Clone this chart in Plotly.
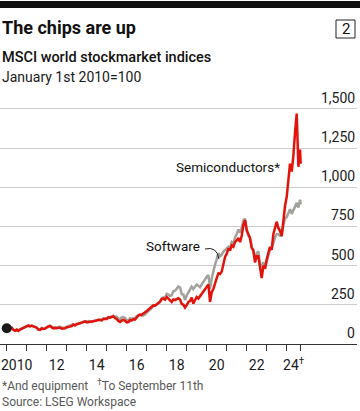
import pandas as pd
import plotly.graph_objects as go

# ---- data ----
months = list(pd.date_range("2010-01-01", "2024-09-01", freq="MS").strftime("%Y-%m-%d")) + ["2024-09-11"]

semis = [
    100, 92, 100, 104, 90, 84, 92, 84, 92, 98, 100, 108,
    114, 118, 112, 116, 112, 106, 104, 92, 90, 100, 96, 98,
    106, 112, 114, 108, 100, 102, 100, 104, 104, 98, 98, 100,
    106, 110, 112, 114, 124, 118, 126, 128, 132, 136, 140, 144,
    138, 140, 142, 140, 144, 148, 150, 154, 152, 150, 160, 158,
    160, 170, 168, 172, 176, 166, 160, 146, 140, 150, 154, 148,
    138, 140, 152, 150, 158, 156, 172, 182, 188, 186, 194, 200,
    210, 220, 228, 232, 246, 244, 256, 262, 270, 288, 290, 282,
    300, 288, 282, 268, 284, 280, 286, 292, 284, 256, 250, 232,
    248, 268, 274, 296, 258, 282, 300, 290, 306, 318, 332, 352,
    362, 380, 268, 330, 350, 392, 420, 450, 446, 462, 520, 556,
    576, 610, 596, 628, 620, 650, 660, 676, 650, 690, 760, 790,
    726, 700, 676, 612, 600, 520, 560, 560, 470, 420, 500, 480,
    540, 590, 620, 600, 700, 740, 780, 740, 720, 690, 800, 880,
    940, 1040, 1150, 1100, 1200, 1350, 1470, 1130, 1240, 1150,
]

software = [
    100, 94, 100, 104, 92, 86, 92, 86, 94, 100, 102, 108,
    112, 116, 114, 118, 114, 108, 106, 94, 92, 102, 98, 100,
    108, 114, 118, 112, 104, 106, 104, 108, 110, 104, 104, 106,
    110, 114, 118, 120, 126, 122, 128, 128, 134, 138, 142, 146,
    142, 146, 142, 140, 146, 150, 152, 154, 156, 154, 164, 162,
    164, 172, 170, 176, 180, 172, 174, 162, 158, 170, 172, 166,
    154, 150, 164, 160, 166, 164, 178, 182, 186, 180, 184, 188,
    200, 210, 222, 228, 246, 244, 252, 260, 268, 288, 298, 296,
    320, 316, 306, 310, 336, 340, 350, 366, 360, 318, 316, 280,
    310, 330, 350, 366, 350, 366, 380, 372, 362, 380, 398, 410,
    428, 440, 350, 420, 470, 506, 540, 580, 560, 570, 590, 600,
    606, 620, 610, 650, 640, 680, 700, 730, 710, 740, 790, 800,
    720, 690, 680, 620, 590, 540, 580, 590, 500, 500, 520, 490,
    530, 560, 600, 610, 650, 680, 700, 700, 690, 690, 760, 800,
    810, 840, 860, 830, 850, 880, 900, 870, 920, 890,
]

start_date = ["2010-01-01"]
start_value = [100]

year_ticks = [f"{y}-01-01" for y in range(2010, 2025)] + ["2024-09-11"]
label_pos = [f"{y}-07-01" for y in range(2010, 2024, 2)] + ["2024-05-07"]
label_text = ["2010", "12", "14", "16", "18", "20", "22", "24<sup>†</sup>"]

y_ticks = [0, 250, 500, 750, 1000, 1250, 1500]
y_text = ["0", "250", "500", "750", "1,000", "1,250", "1,500"]

RED = "#E3120B"
GREY = "#A3A19B"
FONT = "Roboto"

W, H = 360, 411
L, R, T, B = 0, 3, 87, 67
PW, PH = W - L - R, H - T - B
Y_MAX = PH / 0.1568  # 0 at y=344 px, 250 units per 39.2 px


def py(pix):  # pixel y -> paper y
    return (H - B - pix) / PH


def px(pix):  # pixel x -> paper x
    return (pix - L) / PW


fig = go.Figure()
fig.add_trace(go.Scatter(x=months, y=software, mode="lines",
                         line=dict(color=GREY, width=2.5), hoverinfo="skip"))
fig.add_trace(go.Scatter(x=months, y=semis, mode="lines",
                         line=dict(color=RED, width=2.5), hoverinfo="skip"))
fig.add_trace(go.Scatter(x=start_date, y=start_value, mode="markers",
                         marker=dict(color="#1a1a1a", size=10), cliponaxis=False,
                         hoverinfo="skip"))

fig.update_layout(
    width=W, height=H,
    margin=dict(l=L, r=R, t=T, b=B),
    paper_bgcolor="white", plot_bgcolor="white",
    showlegend=False,
    font=dict(family=FONT, color="#1a1a1a"),
    xaxis=dict(
        type="date",
        range=["2009-08-31", "2027-07-07"],
        tickmode="array", tickvals=label_pos, ticktext=label_text,
        ticks="outside", ticklen=8, tickcolor="rgba(0,0,0,0)",
        tickfont=dict(size=14, color="#1a1a1a", family=FONT),
        showline=True, linecolor="#333333", linewidth=1,
        showgrid=False, zeroline=False,
        minor=dict(tickmode="array", tickvals=year_ticks, ticks="outside",
                   ticklen=6, tickcolor="#333333", tickwidth=1, showgrid=False),
    ),
    yaxis=dict(
        range=[0, Y_MAX],
        side="right",
        tickmode="array", tickvals=y_ticks,
        showticklabels=False,
        ticks="",
        showgrid=True, gridcolor="#cccccc", gridwidth=1,
        zeroline=False, showline=False,
    ),
)

# y-axis labels, right-aligned and sitting on their gridlines
for v, t in zip(y_ticks, y_text):
    fig.add_annotation(text=t, xref="paper", yref="y", x=px(357), y=v,
                       xanchor="right", yanchor="bottom", yshift=1, showarrow=False,
                       font=dict(size=14, color="#1a1a1a", family=FONT))

# top black bar
fig.add_shape(type="rect", xref="paper", yref="paper",
              x0=0, x1=px(W), y0=py(8), y1=py(1),
              fillcolor="#111111", line=dict(width=0))
# numbered box
fig.add_shape(type="rect", xref="paper", yref="paper",
              x0=px(336), x1=px(355), y0=py(20), y1=py(38),
              fillcolor="white", line=dict(color="#222222", width=1))
fig.add_annotation(text="2", xref="paper", yref="paper", x=px(345.5), y=py(29.5),
                   showarrow=False, font=dict(size=15, color="#111111", family=FONT),
                   xanchor="center", yanchor="middle")

# titles
fig.add_annotation(text="<b>The chips are up</b>", xref="paper", yref="paper",
                   x=px(0), y=py(28), xanchor="left", yanchor="middle", showarrow=False,
                   font=dict(size=18, color="#111111", family=FONT))
fig.add_annotation(text="MSCI world stockmarket indices", xref="paper", yref="paper",
                   x=px(0), y=py(58), xanchor="left", yanchor="middle", showarrow=False,
                   font=dict(size=14.5, color="#111111", family=FONT, weight=500))
fig.add_annotation(text="January 1st 2010=100", xref="paper", yref="paper",
                   x=px(0), y=py(77), xanchor="left", yanchor="middle", showarrow=False,
                   font=dict(size=14, color="#1a1a1a", family=FONT))

# series labels
fig.add_annotation(text="Semiconductors*", xref="paper", yref="paper",
                   x=px(282), y=py(167), xanchor="right", yanchor="middle", showarrow=False,
                   font=dict(size=13.5, color="#111111", family=FONT))
fig.add_annotation(text="Software", xref="paper", yref="paper",
                   x=px(173), y=py(246), xanchor="center", yanchor="middle", showarrow=False,
                   font=dict(size=13.5, color="#111111", family=FONT))
fig.add_shape(type="path", xref="paper", yref="paper",
              path=f"M {px(205):.4f},{py(249):.4f} Q {px(217):.4f},{py(246):.4f} {px(219):.4f},{py(259):.4f}",
              line=dict(color="#222222", width=1))

# footnotes
fig.add_annotation(text="*And equipment   <sup>†</sup>To September 11th", xref="paper", yref="paper",
                   x=px(0), y=py(385), xanchor="left", yanchor="middle", showarrow=False,
                   font=dict(size=12, color="#595959", family=FONT))
fig.add_annotation(text="Source: LSEG Workspace", xref="paper", yref="paper",
                   x=px(0), y=py(402), xanchor="left", yanchor="middle", showarrow=False,
                   font=dict(size=12, color="#595959", family=FONT))

fig.write_html("out.html", config={"displayModeBar": False},
               post_script="document.body.style.margin='0';document.body.style.overflow='hidden';")
